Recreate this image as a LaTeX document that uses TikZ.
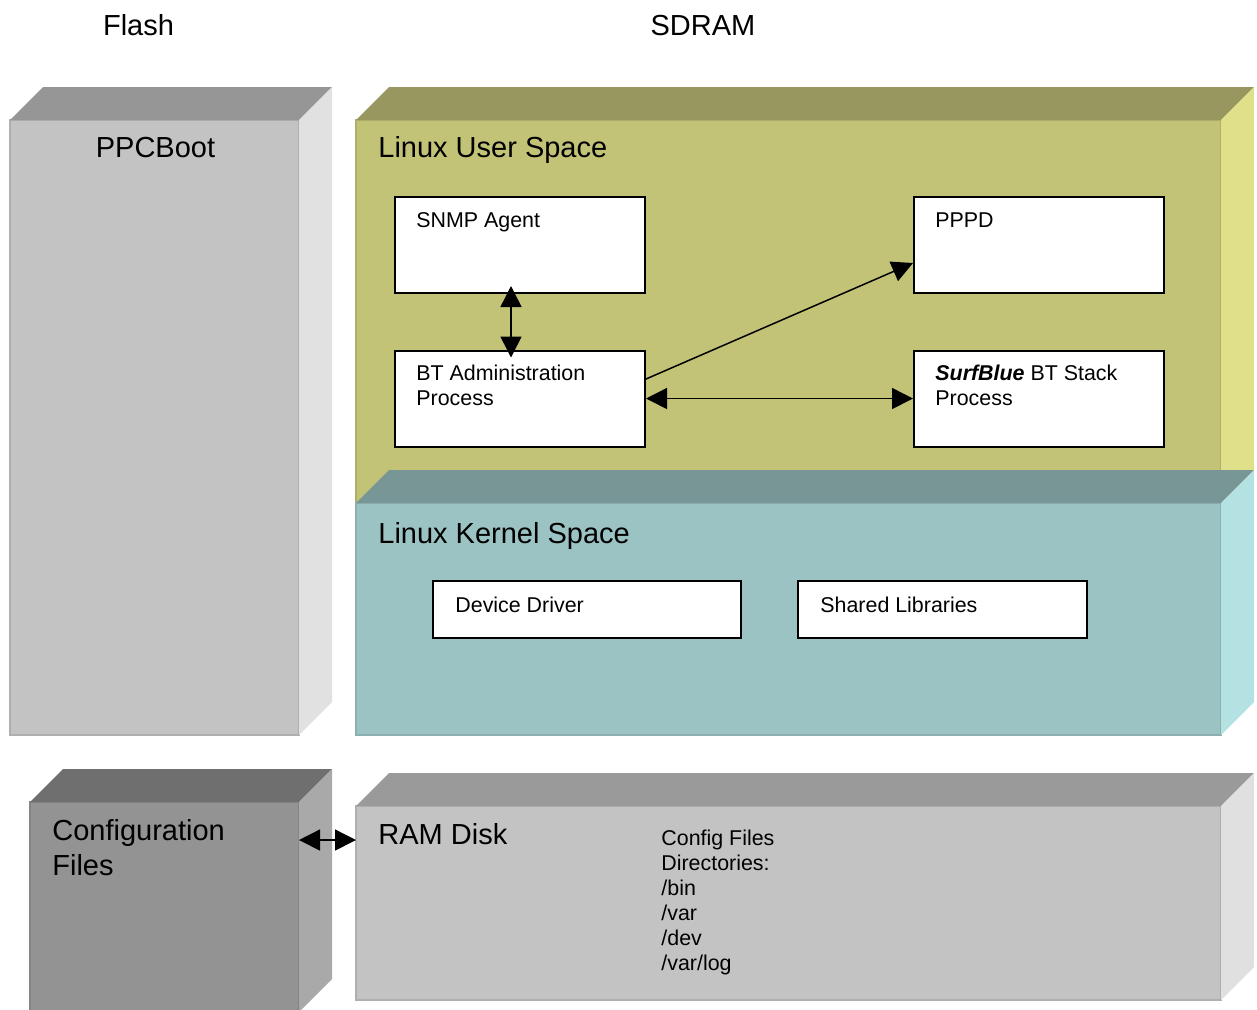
\documentclass[tikz,border=0pt]{standalone}
\usepackage{fontspec}
\setmainfont{Liberation Sans}
\usepackage{xcolor}
\usetikzlibrary{arrows.meta}

\definecolor{bootfront}{HTML}{C3C3C3}
\definecolor{boottop}{HTML}{969696}
\definecolor{bootside}{HTML}{E1E1E1}
\definecolor{userfront}{HTML}{C3C378}
\definecolor{usertop}{HTML}{999760}
\definecolor{userside}{HTML}{E1E08A}
\definecolor{kernfront}{HTML}{9CC3C3}
\definecolor{kerntop}{HTML}{789696}
\definecolor{kernside}{HTML}{B4E1E1}
\definecolor{cfgfront}{HTML}{939393}
\definecolor{cfgtop}{HTML}{6F6F6F}
\definecolor{cfgside}{HTML}{A9A9A9}
\definecolor{ramfront}{HTML}{C3C3C3}
\definecolor{ramtop}{HTML}{9A9A9A}
\definecolor{ramside}{HTML}{E0E0E0}

% x1, y1, x2, y2, colour prefix
\newcommand{\drawblock}[5]{%
  \filldraw[fill=#5front, draw=#5front!90!black, line width=0.6pt] (#1,#2) rectangle (#3,#4);
  \fill[#5top] (#1,#2) -- ++(33,-33) -- (#3+33,#2-33) -- (#3,#2) -- cycle;
  \fill[#5side] (#3,#2) -- (#3+33,#2-33) -- (#3+33,#4-33) -- (#3,#4) -- cycle;
}

\begin{document}
\begin{tikzpicture}[x=0.5pt, y=-0.5pt,
    head/.style={font=\fontsize{14.5}{17.5}\selectfont, inner sep=0pt, align=left},
    txt/.style={font=\fontsize{10.7}{12.5}\selectfont, inner sep=0pt, align=left},
    procbox/.style={draw, line width=1pt, fill=white, inner sep=0pt},
    tip/.tip={Triangle[length=10.5pt, width=10.5pt]},
    link/.style={line width=0.75pt}]
    \useasboundingbox (0,0) rectangle (1257,1009);

    \node[head, anchor=base] (flash) at (138.5,35) {Flash};
    \node[head, anchor=base] (sdram) at (703,35) {SDRAM};

    \drawblock{10}{120}{299}{735}{boot}
    \drawblock{356}{120}{1221}{503}{user}
    \drawblock{356}{503}{1221}{735}{kern}
    \drawblock{30}{802}{299}{1012}{cfg}
    \drawblock{356}{806}{1221}{1000}{ram}

    \node[head, anchor=base] (ppcboot) at (155.5,157) {PPCBoot};
    \node[head, anchor=base west] (userspace) at (378,157) {Linux User Space};
    \node[head, anchor=base west] (kernelspace) at (378,543) {Linux Kernel Space};
    \node[head, anchor=base west] (ramdisk) at (378,844) {RAM Disk};
    \node[head, anchor=north west] (cfgfiles) at (52,819) {Configuration\\Files};

    \node[procbox, minimum width=125pt, minimum height=48pt] (snmp) at (520,245) {};
    \node[procbox, minimum width=125pt, minimum height=48pt] (pppd) at (1039,245) {};
    \node[procbox, minimum width=125pt, minimum height=48pt] (bt) at (520,398.5) {};
    \node[procbox, minimum width=125pt, minimum height=48pt] (surf) at (1039,398.5) {};
    \node[procbox, minimum width=154pt, minimum height=28.5pt] (driver) at (587,609.5) {};
    \node[procbox, minimum width=144.5pt, minimum height=28.5pt] (libs) at (942.5,609.5) {};

    \node[txt, anchor=base west] at (416,227) {SNMP Agent};
    \node[txt, anchor=base west] at (935,227) {PPPD};
    \node[txt, anchor=north west] at (416,365) {BT Administration\\Process};
    \node[txt, anchor=north west] at (935,365) {\textbf{\textit{SurfBlue}} BT Stack\\Process};
    \node[txt, anchor=base west] at (455,612) {Device Driver};
    \node[txt, anchor=base west] at (820,612) {Shared Libraries};
    \node[txt, anchor=north west] (dirs) at (661,830) {Config Files\\Directories:\\/bin\\/var\\/dev\\/var/log};

    \coordinate (cfgR) at (299,840);
    \coordinate (ramL) at (356,840);

    \draw[link, tip-tip, shorten <=-4pt, shorten >=-4pt] ([xshift=-4.5pt]snmp.south) -- ([xshift=-4.5pt]bt.north);
    \draw[link, -tip] ([yshift=9.75pt]bt.east) -- ([yshift=-9pt]pppd.west);
    \draw[link, tip-tip] (bt.east) -- (surf.west);
    \draw[link, tip-tip] (cfgR) -- (ramL);
\end{tikzpicture}
\end{document}
